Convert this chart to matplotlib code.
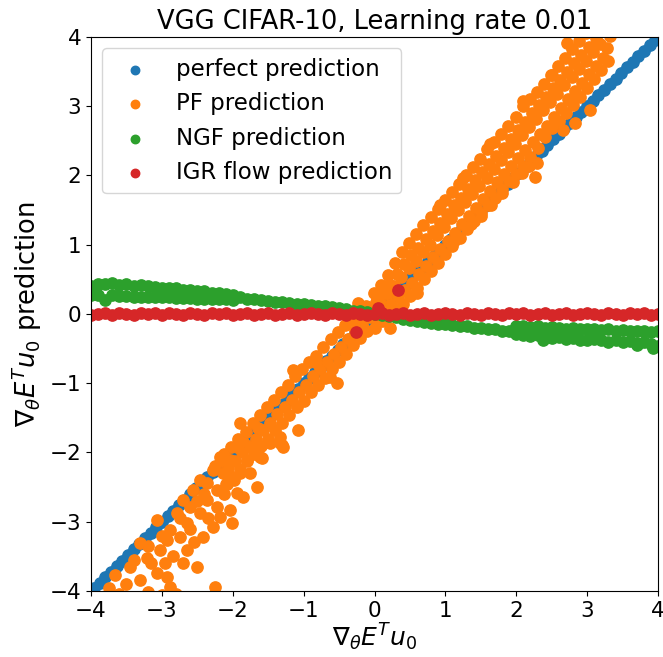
import matplotlib
matplotlib.use("Agg")
import matplotlib.pyplot as plt

# -----------------------------
# data
title = "VGG CIFAR-10, Learning rate 0.01"
labels = ["perfect prediction", "PF prediction", "NGF prediction", "IGR flow prediction"]

# perfect prediction: points sit on the diagonal
perfect = [-4.2, -4.12, -4.04, -3.96, -3.88, -3.8, -3.72, -3.64, -3.56, -3.48, -3.4, -3.32,
           -3.24, -3.16, -3.08, -3.0, -2.92, -2.84, -2.76, -2.68, -2.6, -2.52, -2.44, -2.36,
           -2.28, -2.2, -2.12, -2.04, -1.96, -1.88, -1.8, -1.72, -1.64, -1.56, -1.48, -1.4,
           -1.32, -1.24, -1.16, -1.08, -1.0, -0.92, -0.84, -0.76, -0.68, -0.6, -0.52, -0.44,
           -0.36, -0.28, -0.2, -0.12, -0.04, 0.04, 0.12, 0.2, 0.28, 0.36, 0.44, 0.52, 0.6,
           0.68, 0.76, 0.84, 0.92, 1.0, 1.08, 1.16, 1.24, 1.32, 1.4, 1.48, 1.56, 1.64, 1.72,
           1.8, 1.88, 1.96, 2.04, 2.12, 2.2, 2.28, 2.36, 2.44, 2.52, 2.6, 2.68, 2.76, 2.84,
           2.92, 3.0, 3.08, 3.16, 3.24, 3.32, 3.4, 3.48, 3.56, 3.64, 3.72, 3.8, 3.88, 3.96,
           4.04, 4.12, 4.2]

# PF prediction (x = true value, y = prediction)
pf_points = [
    # lower-left scattered part
    (-3.66, -3.77), (-3.45, -3.65), (-3.31, -3.84), (-3.21, -3.52), (-3.07, -3.74),
    (-2.93, -3.80), (-2.89, -3.94), (-3.03, -3.41), (-3.31, -3.31), (-3.07, -2.97),
    (-2.89, -3.12), (-2.93, -3.26), (-2.65, -3.41), (-2.51, -3.65), (-2.70, -3.60),
    (-2.74, -3.22), (-2.79, -2.87), (-2.60, -2.79), (-2.65, -3.02), (-2.42, -3.22),
    (-2.46, -2.87), (-2.25, -3.94), (-2.28, -3.08), (-2.18, -2.93), (-2.04, -2.83),
    (-2.01, -3.02), (-2.22, -2.79), (-2.36, -2.69), (-2.56, -2.54), (-2.46, -2.40),
    (-2.70, -2.69), (-2.36, -2.44), (-2.22, -2.54), (-2.28, -2.25), (-2.14, -2.30),
    (-1.94, -2.59), (-1.86, -2.64), (-1.66, -2.50), (-2.04, -2.11), (-2.18, -2.06),
    (-1.90, -2.30), (-1.80, -2.11), (-1.62, -2.06), (-1.94, -1.92), (-1.76, -1.92),
    (-1.48, -1.86), (-1.31, -1.89), (-1.08, -1.68), (-1.33, -1.86), (-0.53, -1.00),
    (-1.59, -2.08), (-0.63, -0.91), (-1.29, -1.92), (-1.33, -1.78),
    (-3.60, -4.05), (-3.40, -4.08), (-3.20, -4.02), (-3.00, -4.06), (-2.80, -4.04),
    (-3.75, -3.95), (-3.50, -3.90), (-3.15, -3.60), (-2.85, -3.50), (-2.55, -3.30),
    (-2.60, -3.10), (-2.35, -2.95), (-2.40, -2.60), (-2.12, -2.60), (-2.08, -2.45),
    (-1.98, -2.40), (-1.75, -2.30), (-2.50, -2.70), (-2.75, -2.95), (-3.00, -3.20),
    (-3.20, -3.35), (-3.40, -3.55), (-2.95, -3.60),
    (-2.25, -2.20), (-2.15, -2.12), (-1.85, -1.85), (-1.65, -1.64),
    # lower band
    (-2.10, -2.45), (-2.07, -2.22), (-2.12, -2.02), (-2.00, -2.35), (-1.97, -2.12),
    (-2.02, -1.92), (-1.90, -2.24), (-1.87, -2.00), (-1.92, -1.80), (-1.80, -2.12),
    (-1.77, -1.90), (-1.82, -1.70), (-1.70, -2.02), (-1.67, -1.80), (-1.72, -1.57),
    (-1.60, -1.90), (-1.57, -1.68), (-1.62, -1.46), (-1.50, -1.80), (-1.47, -1.57),
    (-1.52, -1.34), (-1.40, -1.68), (-1.37, -1.45), (-1.42, -1.24), (-1.30, -1.58),
    (-1.27, -1.35), (-1.32, -1.12), (-1.20, -1.46), (-1.17, -1.24), (-1.22, -1.02),
    (-1.10, -1.35), (-1.07, -1.12), (-1.12, -0.90), (-1.00, -1.25), (-0.97, -1.02),
    (-1.02, -0.80), (-0.90, -1.12), (-0.87, -0.90), (-0.92, -0.70), (-0.80, -1.02),
    (-0.77, -0.80), (-0.82, -0.60), (-0.70, -0.92), (-0.67, -0.70), (-0.72, -0.48),
    (-0.60, -0.80), (-0.57, -0.58), (-0.62, -0.36), (-0.50, -0.70), (-0.47, -0.48),
    (-0.52, -0.26), (-0.40, -0.58), (-0.37, -0.36), (-0.42, -0.16), (-0.30, -0.45),
    (-0.27, -0.25), (-0.32, -0.08), (-0.20, -0.35), (-0.17, -0.15), (-0.22, 0.02),
    (-0.10, -0.25), (-0.07, -0.05), (-0.12, 0.12), (-1.90, -1.57), (-0.23, 0.16),
    (-0.81, -0.71), (-1.15, -0.81),
    # upper band
    (0.00, -0.20), (0.03, -0.07), (-0.02, 0.05), (0.02, 0.17), (-0.01, 0.30),
    (0.10, -0.10), (0.13, 0.04), (0.08, 0.17), (0.12, 0.30), (0.09, 0.42),
    (0.20, 0.00), (0.23, 0.15), (0.18, 0.29), (0.22, 0.42), (0.19, 0.56),
    (0.30, 0.06), (0.33, 0.24), (0.28, 0.41), (0.32, 0.58), (0.29, 0.74),
    (0.40, 0.14), (0.43, 0.34), (0.38, 0.53), (0.42, 0.72), (0.39, 0.90),
    (0.50, 0.26), (0.53, 0.45), (0.48, 0.66), (0.52, 0.85), (0.49, 1.02),
    (0.60, 0.38), (0.63, 0.58), (0.58, 0.77), (0.62, 0.96), (0.59, 1.15),
    (0.70, 0.50), (0.73, 0.70), (0.68, 0.90), (0.72, 1.08), (0.69, 1.28),
    (0.80, 0.62), (0.83, 0.82), (0.78, 1.00), (0.82, 1.20), (0.79, 1.40),
    (0.90, 0.74), (0.93, 0.94), (0.88, 1.14), (0.92, 1.32), (0.89, 1.52),
    (1.00, 0.86), (1.03, 1.06), (0.98, 1.25), (1.02, 1.45), (0.99, 1.64),
    (1.10, 0.98), (1.13, 1.17), (1.08, 1.38), (1.12, 1.57), (1.09, 1.76),
    (1.20, 1.10), (1.23, 1.30), (1.18, 1.50), (1.22, 1.68), (1.19, 1.88),
    (1.30, 1.22), (1.33, 1.42), (1.28, 1.62), (1.32, 1.80), (1.29, 2.00),
    (1.40, 1.34), (1.43, 1.53), (1.38, 1.73), (1.42, 1.93), (1.39, 2.12),
    (1.50, 1.46), (1.53, 1.66), (1.48, 1.85), (1.52, 2.05), (1.49, 2.24),
    (1.60, 1.58), (1.63, 1.78), (1.58, 1.97), (1.62, 2.16), (1.59, 2.38),
    (1.70, 1.68), (1.73, 1.90), (1.68, 2.10), (1.72, 2.28), (1.69, 2.48),
    (1.80, 1.80), (1.83, 2.02), (1.78, 2.22), (1.82, 2.40), (1.79, 2.60),
    (1.90, 1.92), (1.93, 2.13), (1.88, 2.34), (1.92, 2.52), (1.89, 2.72),
    (2.00, 2.02), (2.03, 2.25), (1.98, 2.45), (2.02, 2.65), (1.99, 2.85),
    (2.10, 2.14), (2.13, 2.37), (2.08, 2.58), (2.12, 2.77), (2.09, 3.00),
    (2.20, 2.26), (2.23, 2.48), (2.18, 2.70), (2.22, 2.90), (2.19, 3.10),
    (2.30, 2.40), (2.33, 2.60), (2.28, 2.82), (2.32, 3.02), (2.29, 3.20),
    (2.40, 2.55), (2.43, 2.72), (2.38, 2.94), (2.42, 3.14), (2.39, 3.32),
    (2.50, 2.68), (2.53, 2.85), (2.48, 3.06), (2.52, 3.26), (2.49, 3.45),
    (2.60, 2.78), (2.63, 2.98), (2.58, 3.18), (2.62, 3.38), (2.59, 3.58),
    (2.70, 2.90), (2.73, 3.10), (2.68, 3.30), (2.72, 3.50), (2.69, 3.70),
    (2.80, 3.02), (2.83, 3.22), (2.78, 3.42), (2.82, 3.62), (2.79, 3.82),
    (2.90, 3.14), (2.93, 3.34), (2.88, 3.54), (2.92, 3.74), (2.89, 3.94),
    (3.00, 3.26), (3.03, 3.46), (2.98, 3.66), (3.02, 3.86), (2.99, 4.06),
    (3.10, 3.40), (3.13, 3.58), (3.08, 3.78), (3.12, 3.98),
    (3.20, 3.52), (3.23, 3.70), (3.18, 3.90), (3.22, 4.08),
    (3.30, 3.66), (3.28, 3.84), (3.32, 4.02),
    # upper outliers and points lying over the diagonal
    (2.66, 2.66), (2.83, 2.76), (3.04, 2.95), (2.29, 2.18), (2.26, 1.98),
    (1.63, 2.45), (2.09, 3.08), (2.50, 3.45), (0.92, 1.58), (1.25, 1.96),
    (0.22, -0.20), (0.60, 0.30), (2.76, 3.09), (2.71, 3.91),
    (1.50, 1.42), (1.65, 1.58), (1.80, 1.74), (1.95, 1.90), (2.08, 2.03),
    (2.18, 2.14), (1.36, 1.30), (1.12, 1.06),
]

# NGF prediction
ngf_points = [
    (-4.1, 0.40), (-4.0, 0.41), (-3.9, 0.43), (-3.8, 0.44), (-3.7, 0.45), (-3.6, 0.42),
    (-3.5, 0.43), (-3.4, 0.41), (-3.3, 0.42), (-3.2, 0.40), (-3.1, 0.39), (-3.0, 0.38),
    (-2.9, 0.38), (-2.8, 0.37), (-2.7, 0.35), (-2.6, 0.34), (-2.5, 0.33), (-2.4, 0.33),
    (-2.3, 0.31), (-2.2, 0.30), (-2.1, 0.29), (-2.0, 0.28),
    (-4.1, 0.29), (-4.0, 0.28), (-3.9, 0.27), (-3.8, 0.20), (-3.7, 0.27), (-3.6, 0.26),
    (-3.5, 0.26), (-3.4, 0.25), (-3.3, 0.25), (-3.2, 0.25), (-3.1, 0.24), (-3.0, 0.24),
    (-2.9, 0.24), (-2.8, 0.23), (-2.7, 0.23), (-2.6, 0.23), (-2.5, 0.22), (-2.4, 0.22),
    (-2.3, 0.22), (-2.2, 0.21), (-2.1, 0.21), (-2.0, 0.20),
    (-1.9, 0.24), (-1.8, 0.22), (-1.7, 0.22), (-1.6, 0.20), (-1.5, 0.19), (-1.4, 0.18),
    (-1.3, 0.17), (-1.2, 0.16), (-1.1, 0.15), (-1.0, 0.14), (-0.9, 0.13), (-0.8, 0.12),
    (-0.7, 0.11), (-0.6, 0.10), (-0.5, 0.08), (-0.4, 0.07), (-0.3, 0.05), (-0.2, 0.04),
    (-0.1, 0.03), (0.0, 0.00), (0.1, -0.02), (0.2, -0.03), (0.3, -0.05), (0.4, -0.07),
    (0.5, -0.09), (0.6, -0.10), (0.7, -0.11), (0.8, -0.13), (0.9, -0.14), (1.0, -0.15),
    (1.1, -0.16), (1.2, -0.18), (1.3, -0.18), (1.4, -0.20), (1.5, -0.20), (1.6, -0.22),
    (1.7, -0.22), (1.8, -0.24), (1.9, -0.24),
    (2.0, -0.18), (2.1, -0.17), (2.2, -0.19), (2.3, -0.18), (2.4, -0.20), (2.5, -0.19),
    (2.6, -0.20), (2.7, -0.21), (2.8, -0.20), (2.9, -0.22), (3.0, -0.21), (3.1, -0.22),
    (3.2, -0.23), (3.3, -0.22), (3.4, -0.24), (3.5, -0.23), (3.6, -0.24), (3.7, -0.25),
    (3.8, -0.24), (3.9, -0.26), (4.0, -0.25), (4.1, -0.27),
    (2.0, -0.29), (2.1, -0.30), (2.2, -0.32), (2.3, -0.31), (2.4, -0.33), (2.5, -0.34),
    (2.6, -0.33), (2.7, -0.36), (2.8, -0.35), (2.9, -0.37), (3.0, -0.38), (3.1, -0.36),
    (3.2, -0.38), (3.3, -0.40), (3.4, -0.38), (3.5, -0.41), (3.6, -0.39), (3.7, -0.42),
    (3.8, -0.41), (3.9, -0.43), (4.0, -0.46), (4.1, -0.44),
    (2.38, -0.38), (3.70, -0.45), (3.93, -0.49),
]

# IGR flow prediction
igr_x = [-4.1, -4.0, -3.9, -3.8, -3.7, -3.6, -3.5, -3.4, -3.3, -3.2, -3.1, -3.0, -2.9, -2.8,
         -2.7, -2.6, -2.5, -2.4, -2.3, -2.2, -2.1, -2.0, -1.9, -1.8, -1.7, -1.6, -1.5, -1.4,
         -1.3, -1.2, -1.1, -1.0, -0.9, -0.8, -0.7, -0.6, -0.5, -0.4, -0.3, -0.2, -0.1, 0.0,
         0.1, 0.2, 0.3, 0.4, 0.5, 0.6, 0.7, 0.8, 0.9, 1.0, 1.1, 1.2, 1.3, 1.4, 1.5, 1.6,
         1.7, 1.8, 1.9, 2.0, 2.1, 2.2, 2.3, 2.4, 2.5, 2.6, 2.7, 2.8, 2.9, 3.0, 3.1, 3.2,
         3.3, 3.4, 3.5, 3.6, 3.7, 3.8, 3.9, 4.0, 4.1,
         0.33, -0.26, 0.05]
igr_y = [0.01, -0.01, 0.0, 0.02, -0.01, 0.01, 0.0, -0.02, 0.01, 0.0, 0.01, -0.01, 0.02,
         0.0, -0.01, 0.01, 0.0, -0.02, 0.01, 0.0, 0.01, -0.01, 0.0, 0.02, -0.01, 0.0, 0.01,
         -0.01, 0.0, 0.01, -0.02, 0.0, 0.01, 0.0, -0.01, 0.02, 0.0, -0.01, 0.01, 0.0, -0.01,
         0.0, 0.01, -0.01, 0.0, 0.02, -0.01, 0.0, 0.01, -0.02, 0.0, 0.01, 0.0, -0.01, 0.02,
         0.0, -0.01, 0.01, 0.0, -0.02, 0.01, 0.0, 0.01, -0.01, 0.0, 0.02, -0.01, 0.0, 0.01,
         -0.01, 0.0, 0.02, 0.0, -0.01, 0.01, 0.0, -0.02, 0.01, 0.0, 0.01, -0.01, 0.0, 0.01,
         0.34, -0.26, 0.09]

pf_x, pf_y = zip(*pf_points)
ngf_x, ngf_y = zip(*ngf_points)

# -----------------------------
# Plotting
plt.rcParams['font.size'] = 16

fig = plt.figure(figsize=(6.63, 6.57), dpi=100)
ax = fig.add_axes([0.1373, 0.1005, 0.8552, 0.8432])

size = 66
ax.scatter(perfect, perfect, s=size, color='C0', label=labels[0])
ax.scatter(pf_x, pf_y, s=size, color='C1', label=labels[1])
ax.scatter(ngf_x, ngf_y, s=size, color='C2', label=labels[2])
ax.scatter(igr_x, igr_y, s=size, color='C3', label=labels[3])

ax.set_xlim(-4, 4)
ax.set_ylim(-4, 4)
ax.set_xticks(range(-4, 5))
ax.set_yticks(range(-4, 5))
ax.tick_params(labelsize=15.5)
ax.set_xlabel(r'$\nabla_\theta E^T u_0$', fontsize=18, labelpad=1)
ax.set_ylabel(r'$\nabla_\theta E^T u_0$ prediction', fontsize=18.5)
ax.set_title(title, fontsize=18.5)
ax.legend(loc='upper left', fontsize=16.5, markerscale=0.75)

fig.savefig('out.png', dpi=100)
